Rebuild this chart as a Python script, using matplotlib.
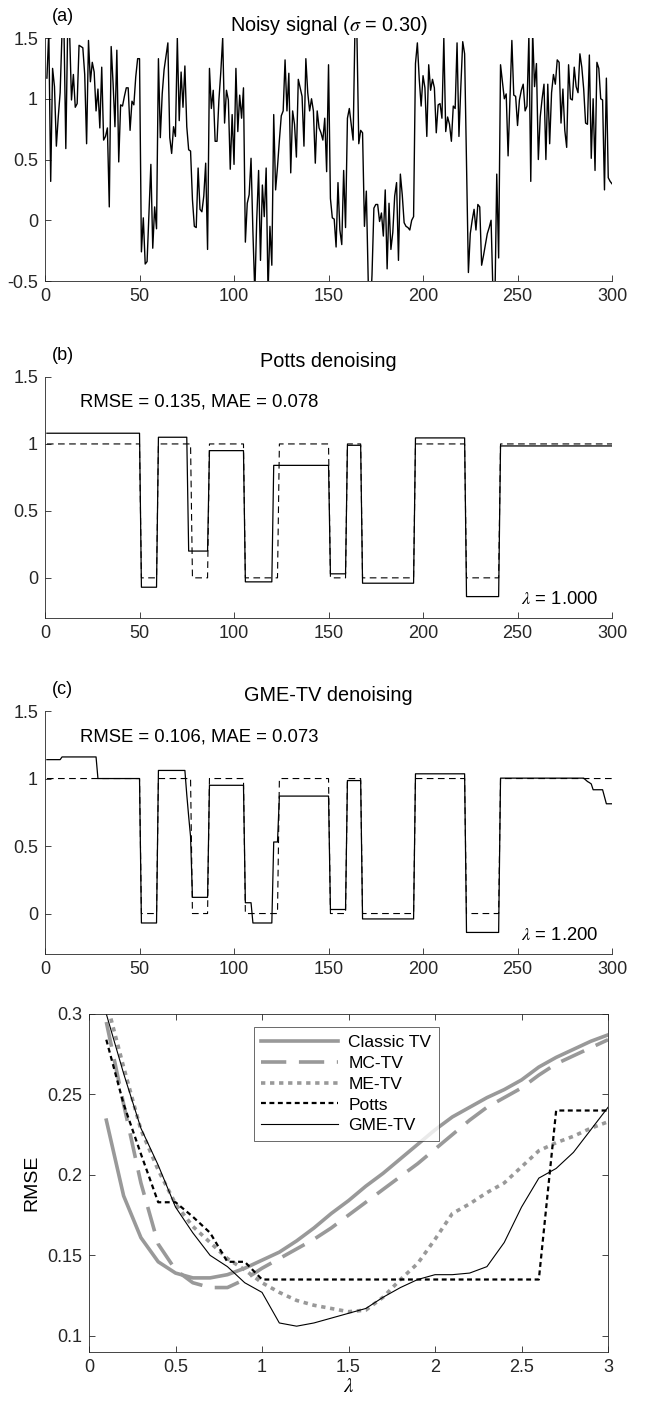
import numpy as np
import matplotlib
matplotlib.use('Agg')
import matplotlib.pyplot as plt

plt.rcParams['font.family'] = ['Liberation Sans', 'DejaVu Sans']
plt.rcParams['mathtext.fontset'] = 'stix'
plt.rcParams['font.size'] = 13

# --- data ---
noisy = [
    1.17, 1.55, 0.32, 1.25, 1.10, 0.61, 0.85, 1.05, 1.55, 1.60,
    0.59, 1.60, 1.55, 0.99, 1.20, 0.93, 0.96, 1.44, 1.43, 1.42,
    1.20, 0.63, 1.48, 1.14, 1.30, 1.22, 0.90, 1.08, 0.76, 1.26,
    0.66, 0.69, 0.76, 0.11, 1.43, 1.13, 0.77, 1.40, 0.48, 0.95,
    0.94, 1.02, 1.09, 1.09, 0.74, 0.98, 0.95, 1.18, 1.33, 1.33,
    -0.26, 0.02, -0.36, -0.34, 0.05, 0.46, -0.23, 0.11, -0.07, 1.33,
    0.68, 1.04, 1.24, 1.35, 1.46, 0.68, 0.55, 0.77, 0.69, 1.50,
    0.82, 1.22, 0.93, 1.27, 0.77, 0.58, 0.57, 0.17, -0.05, -0.06,
    0.43, 0.09, 0.07, 0.20, 0.47, -0.24, 1.25, 0.92, 1.07, 0.65,
    0.65, 0.99, 1.22, 1.50, 0.80, 1.07, 0.99, 0.42, 0.87, 0.46,
    1.25, 0.73, 1.03, 0.84, 1.09, -0.18, 0.14, 0.21, 0.51, -0.10,
    -0.60, 0.00, 0.41, -0.33, 0.29, 0.03, 0.43, -0.60, -0.05, -0.37,
    0.87, 0.25, 0.44, 0.66, 0.86, 0.90, 1.32, 0.90, 1.21, 0.39,
    0.90, 0.79, 0.52, 1.16, 1.09, 1.02, 0.61, 1.33, 1.05, 0.90,
    1.00, 0.90, 0.47, 0.90, 0.76, 0.72, 0.66, 0.84, 0.40, 1.28,
    0.18, 0.02, 0.01, -0.22, 0.31, -0.08, -0.20, 0.41, -0.06, 0.84,
    0.92, 0.79, 0.66, 1.60, 1.55, 0.63, 0.74, 0.72, -0.05, 0.24,
    -0.50, -0.80, -0.45, 0.10, 0.13, 0.13, -0.01, 0.06, -0.13, 0.25,
    -0.40, 0.14, -0.24, -0.10, 0.20, 0.31, -0.33, 0.38, 0.21, -0.02,
    -0.05, -0.06, -0.08, 0.00, 0.03, 1.29, 1.46, 1.16, 0.94, 1.19,
    1.09, 0.69, 1.28, 1.07, 1.16, 1.09, 0.72, 0.95, 0.96, 0.84,
    1.50, 0.73, 0.85, 0.79, 0.65, 0.94, 0.92, 1.46, 0.69, 1.10,
    1.47, 1.37, 0.45, -0.43, -0.11, 0.00, 0.09, -0.08, 0.13, 0.11,
    -0.37, -0.29, -0.20, -0.11, -0.06, 0.00, -0.60, -0.70, 0.38, -0.31,
    1.28, 1.14, 1.00, 1.04, 0.53, 1.00, 1.48, 1.03, 1.02, 0.78,
    0.99, 1.07, 1.12, 0.90, 0.94, 1.52, 0.32, 1.55, 1.10, 1.29,
    0.50, 0.85, 1.00, 1.12, 0.50, 1.12, 0.63, 1.05, 1.20, 1.12,
    1.32, 1.30, 0.80, 1.08, 0.74, 0.60, 1.28, 1.00, 0.99, 1.26,
    1.10, 1.05, 1.37, 1.26, 1.08, 0.80, 0.79, 1.36, 0.51, 1.00,
    0.41, 1.30, 1.25, 1.00, 0.99, 0.25, 1.17, 0.35, 0.32, 0.30,
]

# piecewise-constant signals: last sample index of each piece and its level
true_ends = [50, 59, 77, 86, 105, 123, 150, 159, 167, 195, 222, 240, 300]
true_levels = [1, 0, 1, 0, 1, 0, 1, 0, 1, 0, 1, 0, 1]

potts_ends = [50, 59, 75, 86, 105, 120, 150, 159, 167, 195, 222, 240, 300]
potts_levels = [1.08, -0.07, 1.05, 0.20, 0.95, -0.03, 0.84, 0.03, 0.99,
                -0.04, 1.045, -0.14, 0.985]

gme_ends = [8, 27, 50, 59, 74, 75, 76, 77, 86, 105, 109, 120, 123, 150, 159,
            167, 195, 222, 240, 285, 286, 287, 288, 289, 295, 296, 300]
gme_levels = [1.14, 1.16, 1.00, -0.07, 1.06, 0.88, 0.72, 0.57, 0.12, 0.95,
              0.08, -0.07, 0.53, 0.87, 0.03, 0.985, -0.04, 1.035, -0.14,
              1.003, 0.99, 0.978, 0.97, 0.96, 0.917, 0.865, 0.813]

lam = [0.1, 0.2, 0.3, 0.4, 0.5, 0.6, 0.7, 0.8, 0.9, 1.0,
       1.1, 1.2, 1.3, 1.4, 1.5, 1.6, 1.7, 1.8, 1.9, 2.0,
       2.1, 2.2, 2.3, 2.4, 2.5, 2.6, 2.7, 2.8, 2.9, 3.0]
rmse_tv = [0.234, 0.187, 0.161, 0.146, 0.139, 0.136, 0.136, 0.138, 0.142, 0.147,
           0.152, 0.159, 0.167, 0.176, 0.184, 0.193, 0.201, 0.210, 0.219, 0.228,
           0.236, 0.242, 0.248, 0.253, 0.259, 0.267, 0.273, 0.278, 0.283, 0.287]
rmse_mc = [0.295, 0.244, 0.195, 0.157, 0.141, 0.133, 0.130, 0.130, 0.135, 0.142,
           0.148, 0.154, 0.160, 0.167, 0.175, 0.183, 0.191, 0.199, 0.207, 0.216,
           0.225, 0.234, 0.242, 0.248, 0.254, 0.262, 0.269, 0.274, 0.279, 0.284]
rmse_me = [0.308, 0.267, 0.228, 0.203, 0.182, 0.168, 0.158, 0.148, 0.141, 0.133,
           0.127, 0.122, 0.119, 0.117, 0.115, 0.116, 0.124, 0.135, 0.145, 0.160,
           0.176, 0.182, 0.189, 0.195, 0.205, 0.215, 0.220, 0.224, 0.229, 0.233]
rmse_potts = [0.284, 0.244, 0.213, 0.183, 0.183, 0.174, 0.164, 0.146, 0.146, 0.135,
              0.135, 0.135, 0.135, 0.135, 0.135, 0.135, 0.135, 0.135, 0.135, 0.135,
              0.135, 0.135, 0.135, 0.135, 0.135, 0.135, 0.240, 0.240, 0.240, 0.240]
rmse_gme = [0.300, 0.263, 0.229, 0.206, 0.180, 0.164, 0.150, 0.143, 0.133, 0.127,
            0.108, 0.106, 0.108, 0.111, 0.114, 0.117, 0.124, 0.130, 0.135, 0.138,
            0.138, 0.139, 0.143, 0.158, 0.180, 0.198, 0.204, 0.214, 0.228, 0.242]

legend_names = ['Classic TV', 'MC-TV', 'ME-TV', 'Potts', 'GME-TV']


def expand(ends, levels):
    return np.repeat(levels, np.diff([0] + ends))


n = np.arange(1, len(noisy) + 1)
x_true = expand(true_ends, true_levels)
x_potts = expand(potts_ends, potts_levels)
x_gme = expand(gme_ends, gme_levels)

axcol = '#262626'
gray = '#999999'


def style_axes(ax, box=False):
    for s in ax.spines.values():
        s.set_color(axcol)
        s.set_linewidth(0.6)
    if not box:
        ax.spines['top'].set_visible(False)
        ax.spines['right'].set_visible(False)
    ax.tick_params(direction='in', length=4.5, width=0.6, colors=axcol,
                   top=box, right=box, pad=5, labelsize=13)


fig = plt.figure(figsize=(6.45, 14.03), dpi=100)

# (a) noisy signal
ax1 = fig.add_axes([0.0698, 0.7997, 0.8791, 0.1732])
ax1.plot(n, noisy, color='k', lw=1.0)
ax1.set_xlim(0, 300)
ax1.set_ylim(-0.5, 1.5)
ax1.set_xticks([0, 50, 100, 150, 200, 250, 300])
ax1.set_yticks([-0.5, 0, 0.5, 1, 1.5])
ax1.set_yticklabels(['-0.5', '0', '0.5', '1', '1.5'])
ax1.set_title(r'Noisy signal ($\sigma$ = 0.30)', fontsize=14.3, pad=5)
ax1.text(0.012, 1.07, '(a)', transform=ax1.transAxes, fontsize=13)
style_axes(ax1)

# (b) Potts, (c) GME-TV
panels = [
    ([0.0698, 0.5595, 0.8791, 0.1718], x_potts, 'Potts denoising', '(b)',
     'RMSE = 0.135, MAE = 0.078', r'$\lambda$ = 1.000'),
    ([0.0698, 0.3200, 0.8791, 0.1732], x_gme, 'GME-TV denoising', '(c)',
     'RMSE = 0.106, MAE = 0.073', r'$\lambda$ = 1.200'),
]
for pos, est, title, tag, score, lamtxt in panels:
    ax = fig.add_axes(pos)
    ax.plot(n, x_true, color='k', lw=0.8, linestyle=(0, (6, 4)))
    ax.plot(n, est, color='k', lw=0.9)
    ax.set_xlim(0, 300)
    ax.set_ylim(-0.3, 1.5)
    ax.set_xticks([0, 50, 100, 150, 200, 250, 300])
    ax.set_yticks([0, 0.5, 1, 1.5])
    ax.set_yticklabels(['0', '0.5', '1', '1.5'])
    ax.set_title(title, fontsize=14.3, pad=7)
    ax.text(0.012, 1.07, tag, transform=ax.transAxes, fontsize=13)
    ax.text(18.5, 1.31, score, fontsize=13.3, va='center')
    ax.text(293, -0.165, lamtxt, fontsize=13.3, va='center', ha='right')
    style_axes(ax)

# (d) RMSE vs lambda
ax4 = fig.add_axes([0.1380, 0.0364, 0.8047, 0.2409])
ax4.plot(lam, rmse_tv, color=gray, lw=2.6, label=legend_names[0])
ax4.plot(lam, rmse_mc, color=gray, lw=2.6, linestyle=(0, (7, 3.5)),
         label=legend_names[1])
ax4.plot(lam, rmse_me, color=gray, lw=2.6, linestyle=(0, (1.2, 1.3)),
         label=legend_names[2])
ax4.plot(lam, rmse_potts, color='k', lw=1.6, linestyle=(0, (2.2, 1.6)),
         label=legend_names[3])
ax4.plot(lam, rmse_gme, color='k', lw=0.8, label=legend_names[4])
ax4.set_xlim(0, 3)
ax4.set_ylim(0.09, 0.3)
ax4.set_xticks([0, 0.5, 1, 1.5, 2, 2.5, 3])
ax4.set_xticklabels(['0', '0.5', '1', '1.5', '2', '2.5', '3'])
ax4.set_yticks([0.1, 0.15, 0.2, 0.25, 0.3])
ax4.set_yticklabels(['0.1', '0.15', '0.2', '0.25', '0.3'])
ax4.set_xlabel(r'$\lambda$', fontsize=15, labelpad=1)
ax4.set_ylabel('RMSE', fontsize=14, labelpad=5)
style_axes(ax4, box=True)
leg = ax4.legend(loc='upper left', bbox_to_anchor=(0.317, 0.96),
                 fontsize=12.5, frameon=True, fancybox=False,
                 handlelength=4.4, handletextpad=0.6, borderpad=0.45,
                 labelspacing=0.32, borderaxespad=0)
leg.get_frame().set_edgecolor(axcol)
leg.get_frame().set_linewidth(0.6)

fig.savefig('out.png', dpi=100)
